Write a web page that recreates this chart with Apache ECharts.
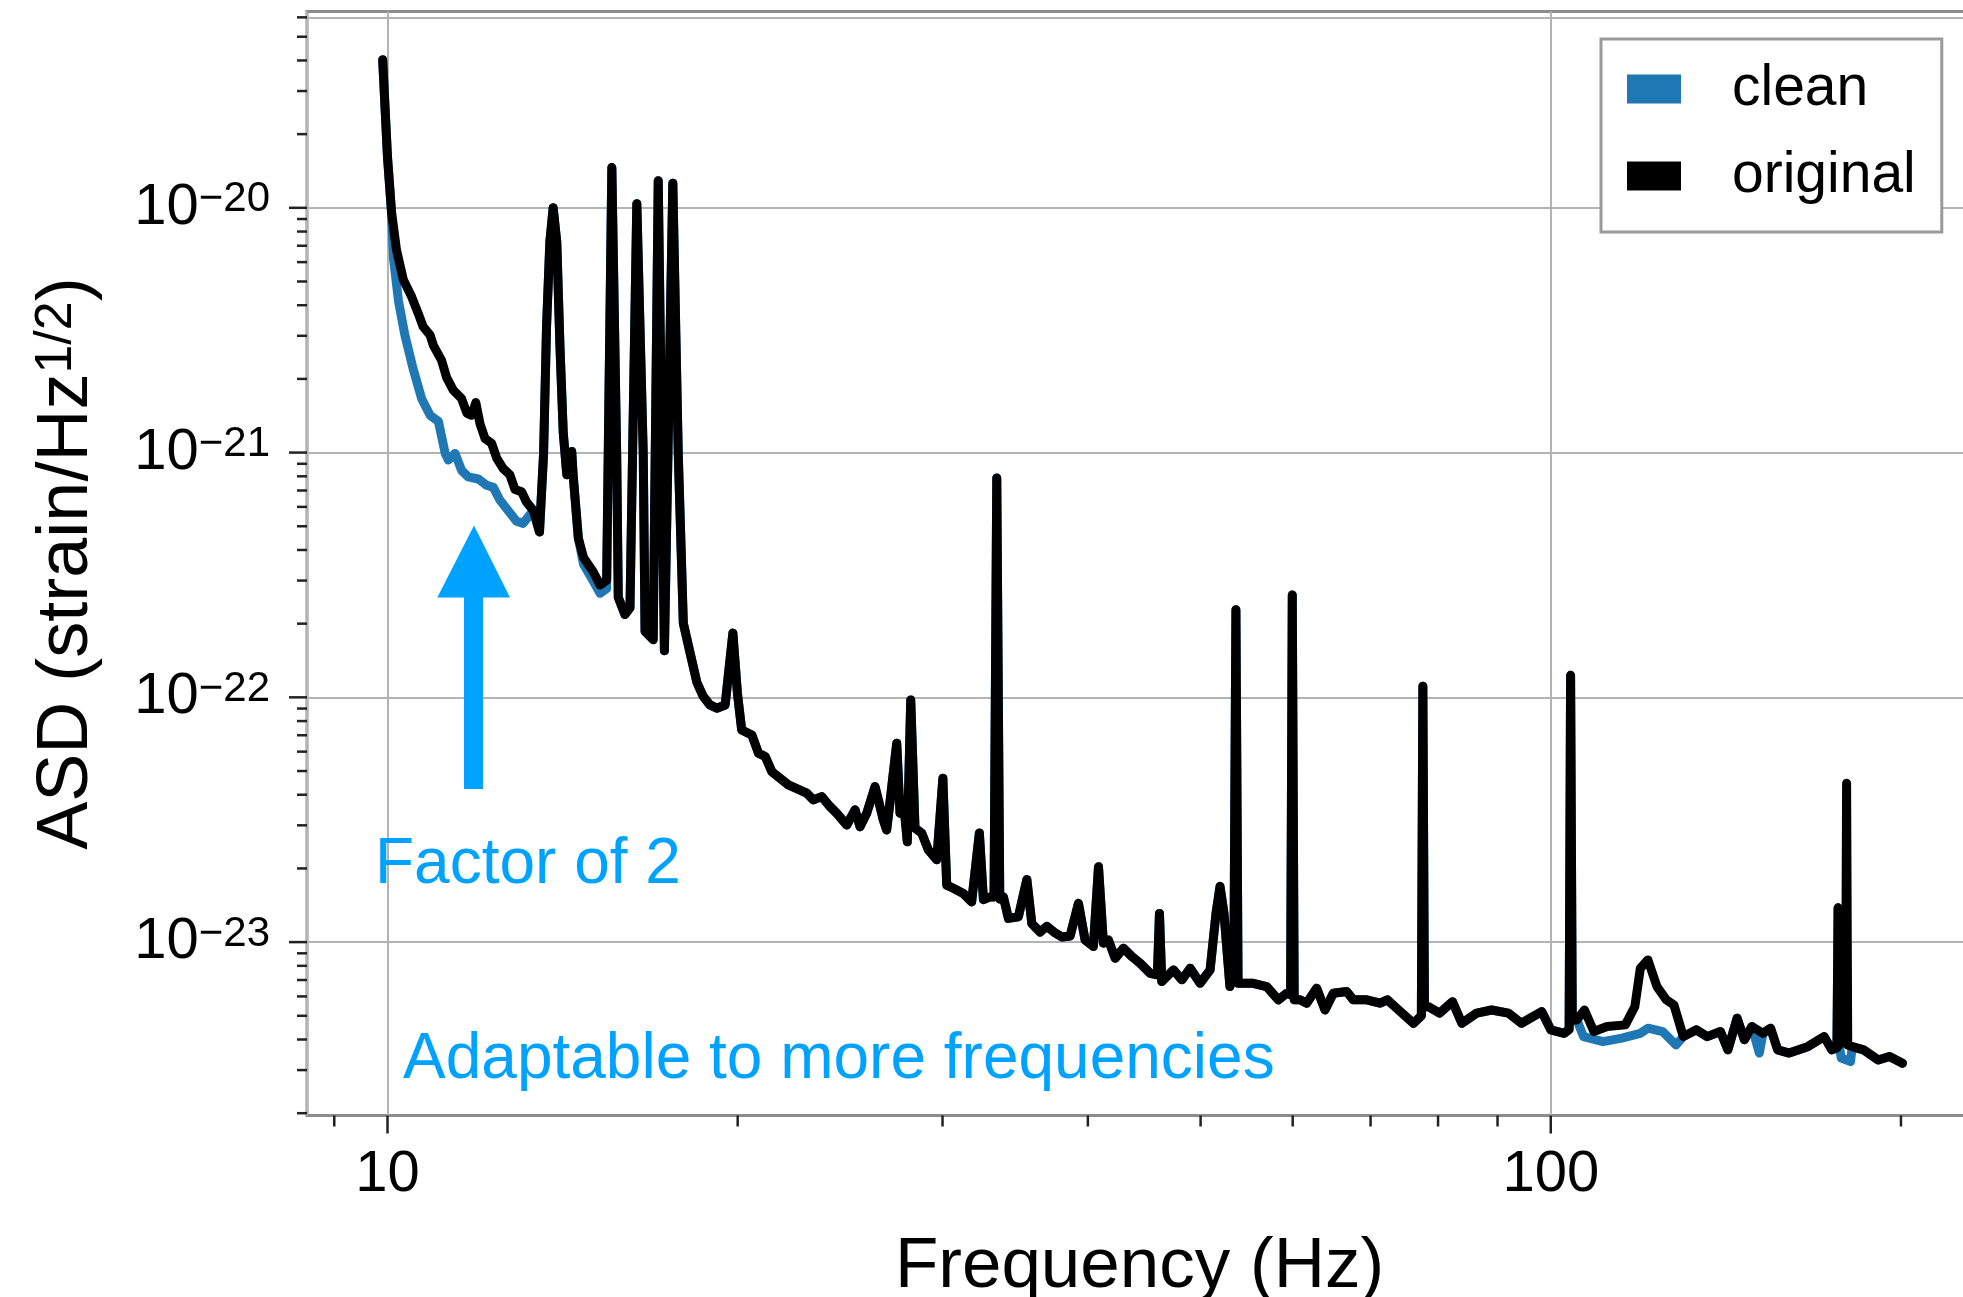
<!DOCTYPE html>
<html>
<head>
<meta charset="utf-8">
<script src="https://cdn.jsdelivr.net/npm/echarts@6/dist/echarts.min.js"></script>
<style>
html,body{margin:0;padding:0;background:#fff;}
#chart{width:1963px;height:1297px;}
</style>
</head>
<body>
<div id="chart"></div>
<script>
const FONT = '"Liberation Sans", Arial, Helvetica, sans-serif';

// ---- Original (black) ASD curve ----
const freqOriginal = [
  9.905,10.0,10.08,10.18,10.32,10.49,10.63,10.73,10.88,10.95,11.13,11.24,11.39,11.58,11.70,11.81,11.91,12.01,12.13,12.29,
  12.41,12.57,12.74,12.87,13.04,13.17,13.35,13.51,13.62,13.70,13.79,13.88,13.98,14.07,14.16,14.26,14.40,14.44,14.59,14.74,
  15.03,15.23,15.43,15.59,15.74,15.79,16.00,16.16,16.38,16.59,16.65,16.92,17.09,17.30,17.59,17.78,17.96,18.20,18.45,18.68,
  18.93,19.19,19.51,19.81,19.99,20.16,20.57,20.84,21.12,21.40,21.75,22.11,22.63,22.93,23.23,23.62,24.01,24.33,24.82,25.23,
  25.48,25.82,26.25,26.68,26.86,27.04,27.40,27.58,27.76,27.98,28.17,28.41,28.79,29.17,29.66,30.02,30.25,30.65,31.26,31.78,
  32.27,32.53,32.96,33.22,33.40,33.60,33.84,34.18,34.86,35.45,35.80,36.39,36.88,37.49,37.99,38.62,39.26,39.78,40.44,40.85,
  41.25,41.66,42.22,42.92,43.64,44.36,45.25,45.90,46.09,46.30,47.39,48.18,48.98,49.95,50.95,51.55,51.96,52.37,52.99,53.40,
  53.62,53.85,55.49,56.98,58.31,59.29,59.75,59.95,60.18,60.87,61.68,62.91,63.96,65.02,66.77,67.65,69.47,71.32,72.37,73.99,
  76.21,77.40,77.63,77.88,78.48,80.24,82.33,83.86,86.38,88.95,91.93,94.35,98.22,100.0,102.7,103.7,104.0,104.35,105.3,106.9,
  108.9,111.8,115.9,118.1,119.4,121.2,123.4,125.7,127.6,130.0,133.4,136.3,139.9,142.0,144.6,146.7,148.9,152.2,154.5,156.7,
  160.3,166.3,171.8,174.4,176.2,176.6,177.0,178.3,179.2,179.6,180.0,181.6,185.7,191.2,195.5,200.6
];
const asdOriginal = [
  4.03e-20,1.61e-20,9.61e-21,6.72e-21,5.07e-21,4.33e-21,3.69e-21,3.27e-21,3.02e-21,2.74e-21,2.38e-21,2.03e-21,1.80e-21,1.66e-21,1.45e-21,1.42e-21,1.60e-21,1.31e-21,1.14e-21,1.09e-21,
  9.52e-22,8.62e-22,8.12e-22,7.07e-22,6.92e-22,6.27e-22,5.79e-22,4.74e-22,9.92e-22,3.27e-21,7.26e-21,1.00e-20,7.26e-21,2.68e-21,1.21e-21,8.12e-22,1.01e-21,8.12e-22,4.47e-22,3.73e-22,
  3.25e-22,2.88e-22,3.00e-22,1.46e-20,9.92e-22,2.56e-22,2.18e-22,2.32e-22,1.04e-20,9.92e-22,1.86e-22,1.72e-22,1.29e-20,1.55e-22,1.26e-20,9.92e-22,2.01e-22,1.52e-22,1.15e-22,1.01e-22,
  9.31e-23,9.03e-23,9.31e-23,1.83e-22,1.04e-22,7.36e-23,7.02e-23,5.91e-23,5.73e-23,4.97e-23,4.67e-23,4.39e-23,4.18e-23,4.06e-23,3.81e-23,3.93e-23,3.58e-23,3.36e-23,3.01e-23,3.47e-23,
  2.96e-23,3.36e-23,4.32e-23,3.16e-23,2.87e-23,3.75e-23,6.49e-23,3.36e-23,3.81e-23,2.57e-23,9.76e-23,2.92e-23,2.79e-23,2.38e-23,2.17e-23,4.67e-23,1.71e-23,1.66e-23,1.58e-23,1.46e-23,
  2.79e-23,1.49e-23,1.53e-23,1.53e-23,7.87e-22,1.50e-23,1.53e-23,1.25e-23,1.27e-23,1.80e-23,1.19e-23,1.10e-23,1.16e-23,1.09e-23,1.05e-23,1.06e-23,1.44e-23,1.02e-23,9.59e-24,2.03e-23,
  9.90e-24,1.02e-23,8.59e-24,9.44e-24,8.73e-24,8.20e-24,7.46e-24,7.35e-24,1.31e-23,6.90e-24,7.70e-24,7.01e-24,7.82e-24,6.79e-24,7.70e-24,1.31e-23,1.69e-23,1.31e-23,6.58e-24,7.46e-24,
  2.28e-22,6.79e-24,6.79e-24,6.58e-24,5.81e-24,6.18e-24,6.10e-24,2.62e-22,5.81e-24,5.81e-24,5.63e-24,6.48e-24,5.28e-24,6.18e-24,6.28e-24,5.81e-24,5.81e-24,5.63e-24,5.81e-24,5.28e-24,
  4.66e-24,5.00e-24,1.11e-22,5.45e-24,5.45e-24,5.13e-24,5.71e-24,4.66e-24,5.13e-24,5.28e-24,5.13e-24,4.66e-24,5.20e-24,4.38e-24,4.24e-24,4.40e-24,1.23e-22,4.81e-24,4.81e-24,5.28e-24,
  4.31e-24,4.52e-24,4.59e-24,5.45e-24,7.82e-24,8.46e-24,6.58e-24,5.81e-24,5.54e-24,4.11e-24,4.38e-24,4.11e-24,4.31e-24,3.63e-24,4.89e-24,3.99e-24,4.52e-24,4.24e-24,4.45e-24,3.63e-24,
  3.52e-24,3.74e-24,4.11e-24,3.63e-24,3.70e-24,1.38e-23,3.80e-24,3.99e-24,3.99e-24,4.46e-23,3.80e-24,3.74e-24,3.63e-24,3.30e-24,3.41e-24,3.20e-24
];

// ---- Clean (blue) curve: segments where it departs from the original ----
const cleanFreqLow = [10.12,10.22,10.35,10.52,10.70,10.88,11.06,11.21,11.28,11.43,11.58,11.73,11.97,12.17,12.33,12.49,12.70,12.91,13.08,13.21];
const cleanAsdLow  = [6.19e-21,4.16e-21,3.02e-21,2.20e-21,1.66e-21,1.42e-21,1.34e-21,9.92e-22,9.33e-22,9.92e-22,8.45e-22,7.96e-22,7.80e-22,7.35e-22,7.21e-22,6.40e-22,5.79e-22,5.24e-22,5.14e-22,5.46e-22];
const cleanFreqMid = [14.74,15.03,15.23,15.43];
const cleanAsdMid  = [3.50e-22,2.98e-22,2.66e-22,2.78e-22];
const cleanFreqHigh = [106.7,110.9,115.1,119.4,121.2,124.8,128.1];
const cleanAsdHigh  = [4.11e-24,3.92e-24,4.05e-24,4.24e-24,4.45e-24,4.31e-24,3.80e-24];
const cleanFreqDip = [151.1];
const cleanAsdDip  = [3.52e-24];
const cleanFreqTop = [177.7,181.0];
const cleanAsdTop  = [3.36e-24,3.25e-24];

// ---- Axes ----
const xMin = 8.527, xMax = 230.2;
const yMin = 1.957e-24, yMax = 6.34e-20;
const xMajorTicks = [10, 100];
const xMinorTicks = [9, 20, 30, 40, 50, 60, 70, 80, 90, 200];
const yMajorExponents = [-23, -22, -21, -20];
const yMinorMantissas = [2, 3, 4, 5, 6, 7, 8, 9];
const yMinorExponents = [-24, -23, -22, -21, -20];

// ---- Build series data ----
const originalData = freqOriginal.map((f, i) => [f, asdOriginal[i]]);
const cleanSegs = [[cleanFreqLow, cleanAsdLow],[cleanFreqMid, cleanAsdMid],[cleanFreqHigh, cleanAsdHigh],[cleanFreqDip, cleanAsdDip],[cleanFreqTop, cleanAsdTop]];
let cleanData = originalData.filter(p => !cleanSegs.some(s => p[0] >= s[0][0] && p[0] <= s[0][s[0].length-1]));
cleanSegs.forEach(s => s[0].forEach((f, i) => cleanData.push([f, s[1][i]])));
cleanData.sort((a, b) => a[0] - b[0]);

// tick marks: [x, y, kind(0 = x axis, 1 = y axis), length]
const tickData = [];
xMajorTicks.forEach(v => tickData.push([v, yMin, 0, 18]));
xMinorTicks.forEach(v => tickData.push([v, yMin, 0, 11]));
yMajorExponents.forEach(e => tickData.push([xMin, Math.pow(10, e), 1, 18]));
yMinorExponents.forEach(e => yMinorMantissas.forEach(m => {
  const v = m * Math.pow(10, e);
  if (v > yMin && v < yMax) tickData.push([xMin, v, 1, 10]);
}));

function isPow10(v) {
  const l = Math.log10(v);
  return Math.abs(l - Math.round(l)) < 1e-6;
}

const LINE_W = 9;
const ANNOT = '#00a2ff';
const chart = echarts.init(document.getElementById('chart'), null, {renderer: 'canvas'});
chart.setOption({
  animation: false,
  backgroundColor: '#ffffff',
  grid: {
    left: 307, top: 11.5, width: 1665, height: 1104,
    containLabel: false, outerBoundsMode: 'none',
    show: true, borderColor: '#8c8c8c', borderWidth: 3, backgroundColor: 'transparent'
  },
  legend: {
    data: [{name: 'clean', icon: 'rect'}, {name: 'original', icon: 'rect'}],
    orient: 'vertical', left: 1601, top: 39,
    itemWidth: 54, itemHeight: 29, itemGap: 27,
    padding: [20, 26, 26, 26],
    borderColor: '#9a9a9a', borderWidth: 3, backgroundColor: '#ffffff',
    selectedMode: false,
    textStyle: {fontSize: 57, fontFamily: FONT, color: '#000', lineHeight: 60, padding: [0, 0, 0, 46]}
  },
  xAxis: {
    type: 'log', logBase: 10, min: xMin, max: xMax,
    axisLine: {show: false},
    axisTick: {show: false},
    minorTick: {show: false},
    splitLine: {show: true, lineStyle: {color: '#b3b3b3', width: 2}},
    axisLabel: {
      formatter: v => isPow10(v) ? String(Math.round(v)) : '',
      fontSize: 58, lineHeight: 58, fontFamily: FONT, color: '#000', margin: 30
    },
    name: 'Frequency (Hz)', nameLocation: 'middle', nameGap: 116, nameMoveOverlap: false,
    nameTextStyle: {fontSize: 71, lineHeight: 71, fontFamily: FONT, color: '#000'}
  },
  yAxis: {
    type: 'log', logBase: 10, min: yMin, max: yMax,
    axisLine: {show: false},
    axisTick: {show: false},
    minorTick: {show: false},
    splitLine: {show: true, lineStyle: {color: '#b3b3b3', width: 2}},
    axisLabel: {
      formatter: v => isPow10(v) ? '{b|10}{s|\u2212' + (-Math.round(Math.log10(v))) + '}' : '',
      margin: 37,
      rich: {
        b: {fontSize: 58, lineHeight: 58, fontFamily: FONT, color: '#000'},
        s: {fontSize: 42, lineHeight: 28, verticalAlign: 'top', fontFamily: FONT, color: '#000'}
      }
    },
    name: '{n|ASD (strain/Hz}{s|1/2}{n|)}', nameLocation: 'middle', nameRotate: 90, nameGap: 204,
    nameMoveOverlap: false,
    nameTextStyle: {
      fontSize: 72, fontFamily: FONT, color: '#000',
      rich: {
        n: {fontSize: 72, lineHeight: 72, fontFamily: FONT, color: '#000'},
        s: {fontSize: 52, lineHeight: 34, verticalAlign: 'top', fontFamily: FONT, color: '#000'}
      }
    }
  },
  series: [
    {
      name: 'clean', type: 'line', data: cleanData, showSymbol: false, symbol: 'none',
      color: '#1f77b4', itemStyle: {color: '#1f77b4'},
      lineStyle: {color: '#1f77b4', width: LINE_W, join: 'round', cap: 'round'}, z: 3
    },
    {
      name: 'original', type: 'line', data: originalData, showSymbol: false, symbol: 'none',
      color: '#000000', itemStyle: {color: '#000000'},
      lineStyle: {color: '#000000', width: LINE_W, join: 'round', cap: 'round'}, z: 4
    },
    {
      name: 'ticks', type: 'custom', data: tickData, clip: false, silent: true, z: 6,
      encode: {x: 0, y: 1},
      renderItem: function (params, api) {
        const p = api.coord([api.value(0), api.value(1)]);
        const len = api.value(3);
        const shape = api.value(2) === 0
          ? {x1: p[0], y1: p[1], x2: p[0], y2: p[1] + len}
          : {x1: p[0] - len, y1: p[1], x2: p[0], y2: p[1]};
        return {type: 'line', shape: shape, style: {stroke: '#222', lineWidth: 2.5}};
      }
    }
  ],
  graphic: [
    {
      type: 'polygon', z: 10,
      shape: {points: [[474, 525.6], [510, 597.6], [483, 597.6], [483, 789], [464, 789], [464, 597.6], [437.3, 597.6]]},
      style: {fill: ANNOT}
    },
    {
      type: 'text', z: 10, x: 375, y: 865,
      style: {text: 'Factor of 2', font: '64px ' + FONT, fill: ANNOT, verticalAlign: 'middle', align: 'left'}
    },
    {
      type: 'text', z: 10, x: 403, y: 1060,
      style: {text: 'Adaptable to more frequencies', font: '64px ' + FONT, fill: ANNOT, verticalAlign: 'middle', align: 'left'}
    }
  ]
});
</script>
</body>
</html>
